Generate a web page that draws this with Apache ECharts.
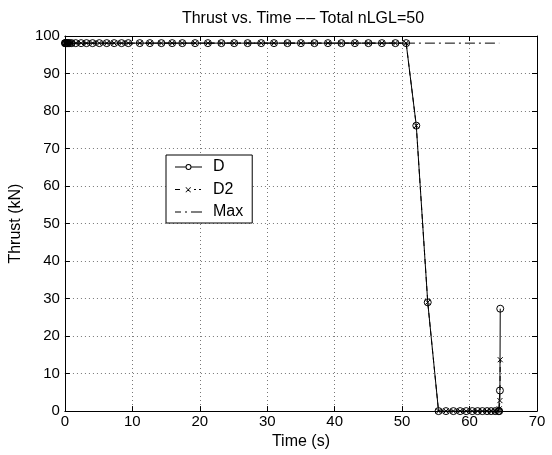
<!DOCTYPE html>
<html><head><meta charset="utf-8">
<script src="https://cdn.jsdelivr.net/npm/echarts@6/dist/echarts.min.js"></script>
<style>html,body{margin:0;padding:0;background:#fff}#c{width:552px;height:455px}</style>
</head><body><div id="c"></div>
<script>
const timeD = [0, 0.05, 0.12, 0.22, 0.35, 0.5, 0.7, 1.0, 1.6, 2.4, 3.2, 4.1, 5.1, 6.2, 7.3, 8.4, 9.4,
  11.1, 12.6, 14.3, 15.9, 17.4, 19.3, 21.2, 23.2, 25.1, 27.1, 29.1, 31.0, 33.0, 35.0, 37.0, 39.0,
  41.0, 43.0, 45.0, 47.0, 49.0, 50.6, 52.1, 53.8, 55.4, 56.5, 57.6, 58.6, 59.5, 60.4, 61.2, 61.9,
  62.6, 63.2, 63.8, 64.3, 64.4, 64.5, 64.55];
const thrustD = [98.1, 98.1, 98.1, 98.1, 98.1, 98.1, 98.1, 98.1, 98.1, 98.1, 98.1, 98.1, 98.1, 98.1, 98.1, 98.1, 98.1,
  98.1, 98.1, 98.1, 98.1, 98.1, 98.1, 98.1, 98.1, 98.1, 98.1, 98.1, 98.1, 98.1, 98.1, 98.1, 98.1,
  98.1, 98.1, 98.1, 98.1, 98.1, 98.1, 76.1, 29.0, 0, 0, 0, 0, 0, 0, 0, 0,
  0, 0, 0, 0, 0, 5.5, 27.3];
const thrustD2 = [98.1, 98.1, 98.1, 98.1, 98.1, 98.1, 98.1, 98.1, 98.1, 98.1, 98.1, 98.1, 98.1, 98.1, 98.1, 98.1, 98.1,
  98.1, 98.1, 98.1, 98.1, 98.1, 98.1, 98.1, 98.1, 98.1, 98.1, 98.1, 98.1, 98.1, 98.1, 98.1, 98.1,
  98.1, 98.1, 98.1, 98.1, 98.1, 98.1, 76.1, 29.0, 0, 0, 0, 0, 0, 0, 0, 0,
  0, 0, 0, 0, 0.6, 2.8, 13.7];
const timeMax = [0, 64.4];
const thrustMax = [98.1, 98.1];
const xTicks = [0, 10, 20, 30, 40, 50, 60, 70];
const yTicks = [0, 10, 20, 30, 40, 50, 60, 70, 80, 90, 100];

const pair = (xs, ys) => xs.map((x, i) => [x, ys[i]]);
const FONT = 'Liberation Sans';
const xMark = 'path://M0,0L10,10M10,0L0,10';
const iconD = 'path://M0,0M33,16M0,7.5h10.5v1h-10.5z M16.5,7.5h10.5v1h-10.5z M16.5,8A3,3 0 1,0 10.5,8A3,3 0 1,0 16.5,8z M15.5,8A2,2 0 1,1 11.5,8A2,2 0 1,1 15.5,8z';
const iconD2 = 'path://M0,0M33,16M0,7.5h5v1h-5z M11,5.5L16,10.5L15.5,11L10.5,6z M10.5,10.5L15.5,5.5L16,6L11,11z M19,7.5h2v1h-2z M24,7.5h2v1h-2z';
const iconMax = 'path://M0,0M33,16M0,7.5h6v1h-6z M10,7.5h2v1h-2z M16,7.5h11v1h-11z';

const chart = echarts.init(document.getElementById('c'), null, {renderer: 'canvas'});
const axisCommon = {
  type: 'value',
  axisLine: {show: true, onZero: false, lineStyle: {color: '#000', width: 1}},
  axisTick: {show: true, inside: true, length: 5, lineStyle: {color: '#000'}},
  axisLabel: {color: '#000', fontFamily: FONT, fontSize: 15},
};
chart.setOption({
  animation: false,
  backgroundColor: '#fff',
  title: {
    text: 'Thrust vs. Time \u2013\u200a\u2013 Total nLGL=50',
    left: 298, top: 6, textAlign: 'center',
    textStyle: {fontFamily: FONT, fontSize: 16, fontWeight: 'normal', color: '#000'}
  },
  grid: {left: 63, right: 15, top: 36, bottom: 43},
  legend: {
    orient: 'vertical', left: 166, top: 155,
    backgroundColor: '#fff', borderColor: '#000', borderWidth: 1,
    padding: [4, 9, 3, 9], itemGap: 6.5, itemWidth: 33, itemHeight: 16,
    itemStyle: {color: '#000', borderWidth: 0},
    textStyle: {fontFamily: FONT, fontSize: 16, color: '#000'},
    data: [{name: 'D', icon: iconD}, {name: 'D2', icon: iconD2}, {name: 'Max', icon: iconMax}]
  },
  xAxis: [
    Object.assign({}, axisCommon, {
      min: 0, max: 70, interval: 10, position: 'bottom',
      name: 'Time (s)', nameLocation: 'middle', nameGap: 9,
      nameTextStyle: {fontFamily: FONT, fontSize: 16, color: '#000'},
      axisLabel: {color: '#000', fontFamily: FONT, fontSize: 15, margin: 3,
        formatter: v => xTicks.includes(v) ? String(v) : ''},
      splitLine: {show: true, lineStyle: {color: '#777', type: [1, 3], width: 1}}
    }),
    Object.assign({}, axisCommon, {
      min: 0, max: 70, interval: 10, position: 'top',
      axisLabel: {show: false}, splitLine: {show: false}
    })
  ],
  yAxis: [
    Object.assign({}, axisCommon, {
      min: 0, max: 100, interval: 10, position: 'left',
      name: 'Thrust (kN)', nameLocation: 'middle', nameGap: 26,
      nameTextStyle: {fontFamily: FONT, fontSize: 16, color: '#000'},
      axisLabel: {color: '#000', fontFamily: FONT, fontSize: 15, margin: 5,
        formatter: v => yTicks.includes(v) ? String(v) : ''},
      splitLine: {show: true, lineStyle: {color: '#777', type: [1, 3], width: 1}}
    }),
    Object.assign({}, axisCommon, {
      min: 0, max: 100, interval: 10, position: 'right',
      axisLabel: {show: false}, splitLine: {show: false}
    })
  ],
  series: [
    {
      name: 'Max', type: 'line', data: pair(timeMax, thrustMax),
      symbol: 'none', z: 2,
      lineStyle: {color: '#000', width: 1, type: [10, 4, 2, 4]},
      itemStyle: {color: '#000'}
    },
    {
      name: 'D2', type: 'line', data: pair(timeD, thrustD2),
      symbol: xMark, symbolSize: 5, showAllSymbol: true, z: 3,
      lineStyle: {color: '#000', width: 1, type: [5, 4]},
      itemStyle: {color: 'rgba(0,0,0,0)', borderColor: '#000', borderWidth: 1}
    },
    {
      name: 'D', type: 'line', data: pair(timeD, thrustD),
      symbol: 'circle', symbolSize: 7, showAllSymbol: true, z: 4,
      lineStyle: {color: '#000', width: 1},
      itemStyle: {color: 'rgba(0,0,0,0)', borderColor: '#000', borderWidth: 1}
    }
  ]
});
</script></body></html>
